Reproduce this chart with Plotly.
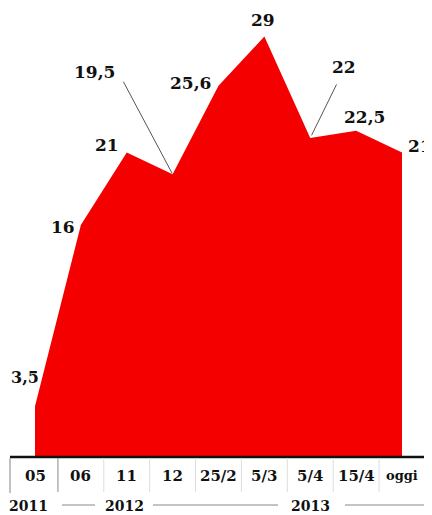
import plotly.graph_objects as go

categories = ["05", "06", "11", "12", "25/2", "5/3", "5/4", "15/4", "oggi"]
values = [3.5, 16, 21, 19.5, 25.6, 29, 22, 22.5, 21]
value_labels = ["3,5", "16", "21", "19,5", "25,6", "29", "22", "22,5", "21"]
years = ["2011", "2012", "2013"]
year_pos = [0, 2, 6]

# The page body has an 8px margin, so the figure is sized to fill the rest
OFF = 8
W, H = 432 - OFF, 515 - OFF
BASE = 457            # screen row of baseline
STEP = 45.875         # px per category
UNIT = 14.5           # px per value unit
X0 = 35               # screen x of first category
RED = "#f40000"
FONT = "DejaVu Serif"

x_idx = list(range(len(categories)))

fig = go.Figure()
fig.add_trace(go.Scatter(
    x=x_idx, y=values, mode="lines", fill="tozeroy",
    line=dict(color=RED, width=0), fillcolor=RED, hoverinfo="skip",
))

plot_h = BASE - OFF

def py(p):
    return (BASE - p) / plot_h

def px(p):
    return (p - OFF) / W

# label placement: (xanchor, yanchor, xshift, yshift, size)
place = [
    ("left", "middle", -26, 29, 16),
    ("right", "middle", -4, -2, 17),
    ("right", "middle", -6, 8, 17),
    ("center", "middle", -78, 102, 17),
    ("right", "middle", -6, 3, 17),
    ("center", "bottom", -1, 5, 17),
    ("center", "middle", 34, 71, 17),
    ("center", "middle", 8, 14, 17),
    ("left", "middle", 4, 7, 17),
]
ann = []
for i, (lab, v) in enumerate(zip(value_labels, values)):
    xa, ya, xs, ys, sz = place[i]
    ann.append(dict(x=i, y=v, xref="x", yref="y", text=f"<b>{lab}</b>",
                    showarrow=False, xanchor=xa, yanchor=ya, xshift=xs, yshift=ys,
                    font=dict(family=FONT, size=sz, color="#111")))

# leader lines
ann.append(dict(x=3, y=values[3], xref="x", yref="y", text="", showarrow=True,
                arrowhead=0, arrowwidth=1, arrowcolor="#555", ax=-50, ay=-94, standoff=1))
ann.append(dict(x=6, y=values[6], xref="x", yref="y", text="", showarrow=True,
                arrowhead=0, arrowwidth=1, arrowcolor="#555", ax=27, ay=-55, standoff=3))

# category labels
for i, c in enumerate(categories):
    ann.append(dict(x=i, y=py(476), xref="x", yref="paper", text=f"<b>{c}</b>",
                    showarrow=False, xanchor="center", yanchor="middle",
                    font=dict(family=FONT, size=15 if c != "oggi" else 13, color="#111")))

# year labels
for yl, pos, xs in zip(years, year_pos, [-7, -2, 0]):
    ann.append(dict(x=pos, y=py(506), xref="x", yref="paper", text=f"<b>{yl}</b>",
                    showarrow=False, xanchor="center", yanchor="middle", xshift=xs,
                    font=dict(family=FONT, size=14, color="#111")))

shapes = []
# baseline
shapes.append(dict(type="line", xref="paper", yref="paper", x0=px(10), x1=px(426),
                   y0=py(457), y1=py(457), line=dict(color="#111", width=2.5)))
# outer borders of category row
for xx in [10, 425]:
    shapes.append(dict(type="line", xref="paper", yref="paper", x0=px(xx), x1=px(xx),
                       y0=py(458), y1=py(493), line=dict(color="#999", width=1.2)))
# dividers
for i in range(len(categories) - 1):
    col = "#888" if i == 0 else "#ddd"
    shapes.append(dict(type="line", xref="x", yref="paper", x0=i + 0.5, x1=i + 0.5,
                       y0=py(458), y1=py(492), line=dict(color=col, width=1)))
# year lines
for a, b in [(62, 95), (153, 278), (345, 426)]:
    shapes.append(dict(type="line", xref="paper", yref="paper", x0=px(a), x1=px(b),
                       y0=py(505), y1=py(505), line=dict(color="#888", width=1)))

x_first = (X0 - OFF)
x_last = x_first + STEP * (len(categories) - 1)
fig.update_layout(
    width=W, height=H, margin=dict(l=0, r=0, t=0, b=H - plot_h),
    paper_bgcolor="white", plot_bgcolor="white", showlegend=False,
    xaxis=dict(range=[-x_first / STEP, (len(categories) - 1) + (W - x_last) / STEP],
               visible=False, fixedrange=True),
    yaxis=dict(range=[0, plot_h / UNIT], visible=False, fixedrange=True),
    annotations=ann, shapes=shapes,
)
fig.write_html("out.html")
